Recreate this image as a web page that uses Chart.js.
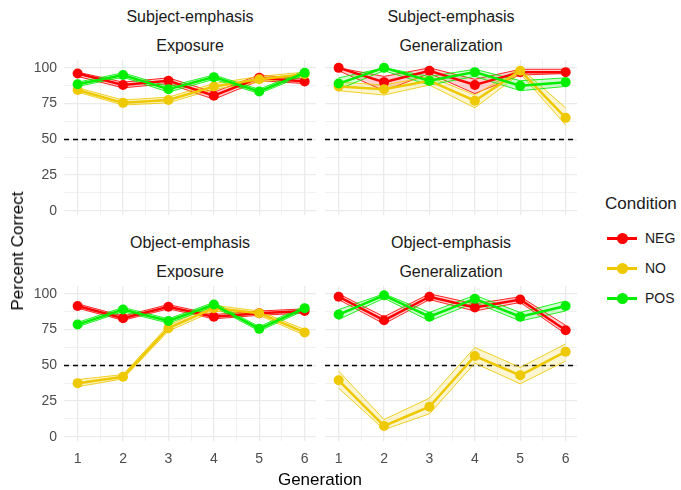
<!DOCTYPE html>
<html>
<head>
<meta charset="utf-8">
<script src="https://cdn.jsdelivr.net/npm/chart.js@4.4.1/dist/chart.umd.min.js"></script>
<style>
  body { margin: 0; background: #fff; font-family: "Liberation Sans", Arial, sans-serif; }
  #wrap { position: relative; width: 681px; height: 490px; overflow: hidden; }
  canvas { position: absolute; }
  .txt { position: absolute; white-space: nowrap; color: #1a1a1a; }
  .strip { font-size: 16px; transform: translate(-50%, -50%); }
  .leg-line { position: absolute; height: 3px; width: 30px; }
  .leg-dot { position: absolute; width: 11px; height: 11px; border-radius: 50%; }
</style>
</head>
<body>
<div id="wrap">
  <canvas id="p1"></canvas>
  <canvas id="p2"></canvas>
  <canvas id="p3"></canvas>
  <canvas id="p4"></canvas>

  <div class="txt strip" style="left:190px;top:17px">Subject-emphasis</div>
  <div class="txt strip" style="left:190px;top:46px">Exposure</div>
  <div class="txt strip" style="left:451px;top:17px">Subject-emphasis</div>
  <div class="txt strip" style="left:451px;top:46px">Generalization</div>
  <div class="txt strip" style="left:190px;top:243px">Object-emphasis</div>
  <div class="txt strip" style="left:190px;top:272px">Exposure</div>
  <div class="txt strip" style="left:451px;top:243px">Object-emphasis</div>
  <div class="txt strip" style="left:451px;top:272px">Generalization</div>

  <div class="txt" style="left:18px;top:251px;font-size:17px;color:#000;transform:translate(-50%,-50%) rotate(-90deg)">Percent Correct</div>
  <div class="txt" style="left:320px;top:480px;font-size:17px;color:#000;transform:translate(-50%,-50%)">Generation</div>

  <div id="legend"></div>
</div>

<script>
// generations and grid
const generations = [1, 2, 3, 4, 5, 6];
const yTickValues = [0, 25, 50, 75, 100];
const yGridValues = [0, 12.5, 25, 37.5, 50, 62.5, 75, 87.5, 100];
const xGridValues = [1, 1.5, 2, 2.5, 3, 3.5, 4, 4.5, 5, 5.5, 6];
const chanceLevel = 50;

const conditions = ["NEG", "NO", "POS"];
const condColors = ["#FF0000", "#EEC900", "#00EE00"];

// Subject-emphasis / Exposure
const subjExpNEG   = [96, 88, 91, 80.5, 93, 90.5];
const subjExpNEGlo = [94, 86, 89, 78, 91, 89];
const subjExpNEGhi = [97, 90, 93, 83, 95, 92];
const subjExpNO    = [84.5, 75.5, 77.5, 87, 92, 95.5];
const subjExpNOlo  = [83, 74, 75.5, 85, 90, 94];
const subjExpNOhi  = [86, 77.5, 79.5, 89, 94, 97];
const subjExpPOS   = [88.5, 95, 85, 93.5, 83.5, 96.5];
const subjExpPOSlo = [87, 93.5, 83, 92, 82, 95];
const subjExpPOShi = [90, 96.5, 87, 95, 85, 98];

// Subject-emphasis / Generalization
const subjGenNEG   = [100, 90, 98, 88, 97, 97];
const subjGenNEGlo = [98, 84, 96, 82, 95, 96];
const subjGenNEGhi = [100, 94, 100, 92, 99, 99];
const subjGenNO    = [87, 85, 91, 77, 98, 65];
const subjGenNOlo  = [84, 81, 88, 72, 96, 60];
const subjGenNOhi  = [90, 88, 94, 81, 100, 72];
const subjGenPOS   = [89, 100, 91, 97, 87.5, 90];
const subjGenPOSlo = [85, 98, 88, 94, 84, 87];
const subjGenPOShi = [93, 100, 94, 99, 91, 93];

// Object-emphasis / Exposure
const objExpNEG   = [91.5, 83, 91, 84, 86.5, 88];
const objExpNEGlo = [90, 81.5, 89.5, 82.5, 85, 86.5];
const objExpNEGhi = [93, 84.5, 92.5, 85.5, 88, 89.5];
const objExpNO    = [37.5, 42, 76, 90, 86.5, 73];
const objExpNOlo  = [35, 40.5, 74, 88, 85, 71];
const objExpNOhi  = [40, 43.5, 78, 92, 88, 75];
const objExpPOS   = [78.5, 89, 81, 92.5, 75.5, 90];
const objExpPOSlo = [77, 87.5, 79.5, 91, 74, 88.5];
const objExpPOShi = [80, 90.5, 82.5, 94, 77, 91.5];

// Object-emphasis / Generalization
const objGenNEG   = [98, 81.5, 98, 90.5, 96, 74.5];
const objGenNEGlo = [96, 79, 96, 88, 94, 72];
const objGenNEGhi = [100, 84, 100, 93, 98, 78];
const objGenNO    = [39.5, 7.5, 21, 56.5, 43, 59.5];
const objGenNOlo  = [34, 5, 16, 51.5, 37, 53];
const objGenNOhi  = [46, 12, 27, 62.5, 48.5, 65];
const objGenPOS   = [85.5, 99, 84, 96.5, 84, 91.5];
const objGenPOSlo = [82, 97, 81, 94, 81, 88];
const objGenPOShi = [89, 100, 87, 99, 87, 95];

function pts(arr) {
  return arr.map(function(v, i) { return { x: generations[i], y: v }; });
}

function withAlpha(hex, a) {
  var r = parseInt(hex.substr(1, 2), 16), g = parseInt(hex.substr(3, 2), 16), b = parseInt(hex.substr(5, 2), 16);
  return "rgba(" + r + "," + g + "," + b + "," + a + ")";
}

function buildDatasets(series) {
  // series: [[mean, lo, hi], ...] in conditions order
  var ds = [];
  series.forEach(function(s, i) {
    var col = condColors[i];
    ds.push({ data: pts(s[2]), borderColor: withAlpha(col, 0.85), borderWidth: 1, pointRadius: 0,
              fill: "+1", backgroundColor: withAlpha(col, 0.18), order: 20 - i });
    ds.push({ data: pts(s[1]), borderColor: withAlpha(col, 0.85), borderWidth: 1, pointRadius: 0,
              fill: false, order: 20 - i });
    ds.push({ data: pts(s[0]), borderColor: col, borderWidth: 2.5, pointRadius: 5, pointHoverRadius: 5,
              pointBackgroundColor: col, pointBorderColor: col, pointBorderWidth: 0,
              fill: false, order: 10 - i });
  });
  return ds;
}

const refLine = {
  id: "refLine",
  beforeDatasetsDraw: function(chart) {
    var ctx = chart.ctx, a = chart.chartArea, y = chart.scales.y;
    var py = Math.round(y.getPixelForValue(chanceLevel)) + 0.5;
    ctx.save();
    ctx.setLineDash([5, 4]);
    ctx.strokeStyle = "#000";
    ctx.lineWidth = 1.3;
    ctx.beginPath();
    ctx.moveTo(a.left, py);
    ctx.lineTo(a.right, py);
    ctx.stroke();
    ctx.restore();
  }
};

function noPad(sc) {
  sc.paddingTop = 0; sc.paddingBottom = 0; sc.paddingLeft = 0; sc.paddingRight = 0;
}

function makePanel(id, series, box, showY, showX) {
  var yW = showY ? 45 : 0;
  var xH = showX ? 30 : 0;
  var cv = document.getElementById(id);
  cv.width = box.w + yW;
  cv.height = box.h + xH;
  cv.style.left = (box.left - yW) + "px";
  cv.style.top = box.top + "px";

  new Chart(cv, {
    type: "line",
    data: { datasets: buildDatasets(series) },
    plugins: [refLine],
    options: {
      responsive: false,
      animation: false,
      layout: { padding: 0, autoPadding: false },
      plugins: { legend: { display: false }, tooltip: { enabled: false } },
      elements: { line: { tension: 0 } },
      scales: {
        x: {
          type: "linear", min: 0.7, max: 6.25,
          afterBuildTicks: function(sc) { sc.ticks = xGridValues.map(function(v) { return { value: v }; }); },
          afterFit: function(sc) { sc.height = xH; noPad(sc); },
          grid: {
            color: "#EBEBEB", drawTicks: false,
            lineWidth: function(c) { return Number.isInteger(c.tick.value) ? 1.3 : 0.7; }
          },
          border: { display: false },
          ticks: {
            display: showX, padding: 10, autoSkip: false, maxRotation: 0,
            color: "#4D4D4D", font: { size: 14, family: "Liberation Sans" },
            callback: function(v) { return Number.isInteger(v) ? String(v) : ""; }
          }
        },
        y: {
          type: "linear", min: -3, max: 105.5,
          afterBuildTicks: function(sc) { sc.ticks = yGridValues.map(function(v) { return { value: v }; }); },
          afterFit: function(sc) { sc.width = yW; noPad(sc); },
          grid: {
            color: "#EBEBEB", drawTicks: false,
            lineWidth: function(c) { return yTickValues.indexOf(c.tick.value) >= 0 ? 1.3 : 0.7; }
          },
          border: { display: false },
          ticks: {
            display: showY, padding: 7, autoSkip: false,
            color: "#4D4D4D", font: { size: 14, family: "Liberation Sans" },
            callback: function(v) { return yTickValues.indexOf(v) >= 0 ? String(v) : ""; }
          }
        }
      }
    }
  });
}

makePanel("p1", [[subjExpNEG, subjExpNEGlo, subjExpNEGhi], [subjExpNO, subjExpNOlo, subjExpNOhi], [subjExpPOS, subjExpPOSlo, subjExpPOShi]],
  { left: 64, top: 60, w: 252, h: 155 }, true, false);
makePanel("p2", [[subjGenNEG, subjGenNEGlo, subjGenNEGhi], [subjGenNO, subjGenNOlo, subjGenNOhi], [subjGenPOS, subjGenPOSlo, subjGenPOShi]],
  { left: 325, top: 60, w: 252, h: 155 }, false, false);
makePanel("p3", [[objExpNEG, objExpNEGlo, objExpNEGhi], [objExpNO, objExpNOlo, objExpNOhi], [objExpPOS, objExpPOSlo, objExpPOShi]],
  { left: 64, top: 286, w: 252, h: 155 }, true, true);
makePanel("p4", [[objGenNEG, objGenNEGlo, objGenNEGhi], [objGenNO, objGenNOlo, objGenNOhi], [objGenPOS, objGenPOSlo, objGenPOShi]],
  { left: 325, top: 286, w: 252, h: 155 }, false, true);

// legend
var leg = "<div class='txt' style='left:605px;top:194px;font-size:17px'>Condition</div>";
conditions.forEach(function(c, i) {
  var cy = 238 + i * 30;
  leg += "<div class='leg-line' style='left:607px;top:" + (cy - 1.5) + "px;background:" + condColors[i] + "'></div>";
  leg += "<div class='leg-dot' style='left:616.5px;top:" + (cy - 5.5) + "px;background:" + condColors[i] + "'></div>";
  leg += "<div class='txt' style='left:645px;top:" + (cy - 8) + "px;font-size:14px'>" + c + "</div>";
});
document.getElementById("legend").innerHTML = leg;
</script>
</body>
</html>
